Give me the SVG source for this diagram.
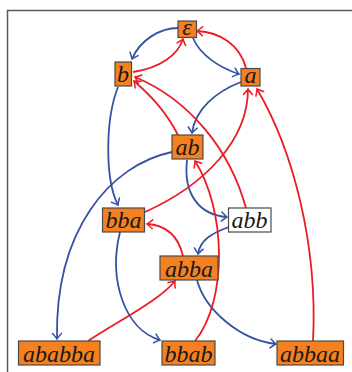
<svg xmlns="http://www.w3.org/2000/svg" width="352" height="372" viewBox="0 0 352 372">
<style>
.box{fill:#F4801F;stroke:#4a4a4a;stroke-width:1.2}
.wbox{fill:#ffffff;stroke:#4a4a4a;stroke-width:1.2}
.lbl{font-family:"Liberation Serif","DejaVu Serif",serif;font-style:italic;font-size:24px;fill:#1a1a1a;text-anchor:middle}
.blue{fill:none;stroke:#3551A3;stroke-width:1.8;marker-end:url(#ab)}
.red{fill:none;stroke:#EC1C24;stroke-width:1.8;marker-end:url(#ar)}
</style>
<defs>
<marker id="ab" markerUnits="userSpaceOnUse" markerWidth="14" markerHeight="14" refX="0" refY="0" viewBox="-7 -7 14 14" orient="auto" overflow="visible">
<path d="M-5.5,-4.5 Q-1.5,-0.9 0,0 Q-1.5,0.9 -5.5,4.5" fill="none" stroke="#3551A3" stroke-width="1.5" stroke-linecap="round"/>
</marker>
<marker id="ar" markerUnits="userSpaceOnUse" markerWidth="14" markerHeight="14" refX="0" refY="0" viewBox="-7 -7 14 14" orient="auto" overflow="visible">
<path d="M-5.5,-4.5 Q-1.5,-0.9 0,0 Q-1.5,0.9 -5.5,4.5" fill="none" stroke="#EC1C24" stroke-width="1.5" stroke-linecap="round"/>
</marker>
</defs>
<g id="frame" fill="none" stroke="#5a5a5a" stroke-width="1.5">
<path d="M7.5,372 V10.5 H352"/>
</g>
<g id="connectors">
<path class="blue" d="M178,28 C160,28 140,40 132,59"/>
<path class="blue" d="M193,38 C200,55 220,68 239,74"/>
<path class="blue" d="M241,82 C215,92 195,110 192,133"/>
<path class="blue" d="M118,87 C105,120 105,180 118,205"/>
<path class="blue" d="M172,152 C110,165 55,230 57,339"/>
<path class="blue" d="M187,160 C183,195 200,215 227,217"/>
<path class="blue" d="M229,227 C212,233 200,240 198,254"/>
<path class="blue" d="M120,232 C108,280 125,330 160,340"/>
<path class="blue" d="M197,280 C205,310 240,340 276,344"/>
<path class="red" d="M133,72 C160,68 178,55 183,39"/>
<path class="red" d="M246,68 C240,45 220,32 197,31"/>
<path class="red" d="M178,135 C165,110 150,95 134,81"/>
<path class="red" d="M246,208 C230,150 190,100 135,77"/>
<path class="red" d="M145,212 C205,185 248,140 248,89"/>
<path class="red" d="M313,341 C318,245 293,150 257,89"/>
<path class="red" d="M195,341 C228,300 226,210 195,161"/>
<path class="red" d="M183,256 C178,235 165,225 147,224"/>
<path class="red" d="M88,341 C120,320 160,300 175,281"/>
</g>
<g id="n-eps"><rect class="box" x="178" y="21" width="18.5" height="16.5"/><text class="lbl" x="187" y="34.5">ε</text></g>
<g id="n-b"><rect class="box" x="115" y="62" width="16.5" height="24"/><text class="lbl" x="123" y="82">b</text></g>
<g id="n-a"><rect class="box" x="241" y="68.5" width="19" height="17.5"/><text class="lbl" x="250.5" y="82.5">a</text></g>
<g id="n-ab"><rect class="box" x="172" y="135" width="31" height="24"/><text class="lbl" x="187.5" y="155">ab</text></g>
<g id="n-bba"><rect class="box" x="102.5" y="208" width="42" height="24"/><text class="lbl" x="123.5" y="228">bba</text></g>
<g id="n-abb"><rect class="wbox" x="228.5" y="208" width="42.5" height="24"/><text class="lbl" x="249.5" y="228">abb</text></g>
<g id="n-abba"><rect class="box" x="160" y="256" width="58" height="24"/><text class="lbl" x="189" y="276.5">abba</text></g>
<g id="n-ababba"><rect class="box" x="18.5" y="341" width="81.5" height="24"/><text class="lbl" x="59" y="361.5">ababba</text></g>
<g id="n-bbab"><rect class="box" x="162" y="341" width="53" height="24"/><text class="lbl" x="188.5" y="361.5">bbab</text></g>
<g id="n-abbaa"><rect class="box" x="277" y="341" width="66.5" height="24"/><text class="lbl" x="310" y="361.5">abbaa</text></g>
</svg>
